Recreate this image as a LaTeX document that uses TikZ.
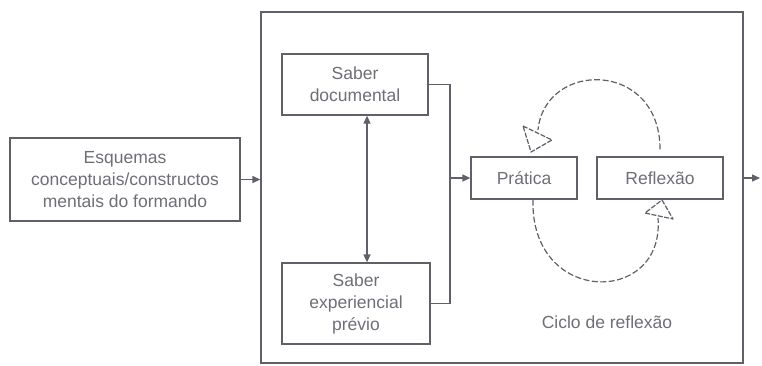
\documentclass[tikz,border=0pt]{standalone}
\usepackage{fontspec}
\setmainfont{Liberation Sans}
\usetikzlibrary{arrows.meta,calc}
\definecolor{ink}{RGB}{96,96,104}
\definecolor{txt}{RGB}{110,110,118}
\tikzset{
  box/.style={draw=ink, line width=1.3pt, rectangle, align=center, inner sep=0pt,
              text=txt, font=\fontsize{17.5pt}{22pt}\selectfont},
  line/.style={draw=ink, line width=1.3pt},
  arr/.style={line, -{Triangle[length=8pt,width=7pt]}},
  darr/.style={line, {Triangle[length=8pt,width=7pt]}-{Triangle[length=8pt,width=7pt]}},
  cyc/.style={draw=ink, line width=1.2pt, dash pattern=on 6pt off 2.5pt},
  tri/.style={draw=ink, line width=1.2pt, fill=white, line join=round, dash pattern=on 5pt off 1.5pt},
  lbl/.style={text=txt, font=\fontsize{17.5pt}{22pt}\selectfont, inner sep=0pt}
}
\begin{document}
\begin{tikzpicture}[x=1pt,y=-1pt]
\useasboundingbox (0,0) rectangle (762,365);
\node[box, minimum width=482pt, minimum height=351pt] (outer) at (502,187.5) {};
\node[box, minimum width=230pt, minimum height=83pt] (esq) at (125,179.5)
  {Esquemas\\conceptuais/constructos\\mentais do formando};
\node[box, minimum width=146pt, minimum height=61pt] (sd) at (355,84.5)
  {Saber\\documental};
\node[box, minimum width=148pt, minimum height=81pt] (se) at (356,303.5)
  {Saber\\experiencial\\prévio};
\node[box, minimum width=106pt, minimum height=42pt] (pr) at (524,178) {Prática};
\node[box, minimum width=126pt, minimum height=42pt] (rf) at (660,178) {Reflexão};
\node[lbl] (ciclo) at (607,322) {Ciclo de reflexão};

\coordinate (dx) at (367,0);
\coordinate (j) at (450,178);
\coordinate (out) at (760,178);

\draw[arr] (esq.east) -- (outer.west |- esq.east);
\draw[darr] (sd.south -| dx) -- (se.north -| dx);
\draw[line] (sd.east) -| (j) |- (se.east);
\draw[arr] (j) -- (pr.west);
\draw[arr] (outer.east |- out) -- (out);

% cycle of reflection
\draw[cyc] ($(rf.north)+(0,-7)$) .. controls (660,60) and (545,60) .. (538,130);
\draw[cyc] ($(pr.south)+(9,0)$) .. controls (530,306) and (665,306) .. (658,218);
\draw[tri] (523,126) -- (552,140) -- (531,152) -- cycle;
\draw[tri] (662,200) -- (673,219) -- (645,213) -- cycle;
\end{tikzpicture}
\end{document}
